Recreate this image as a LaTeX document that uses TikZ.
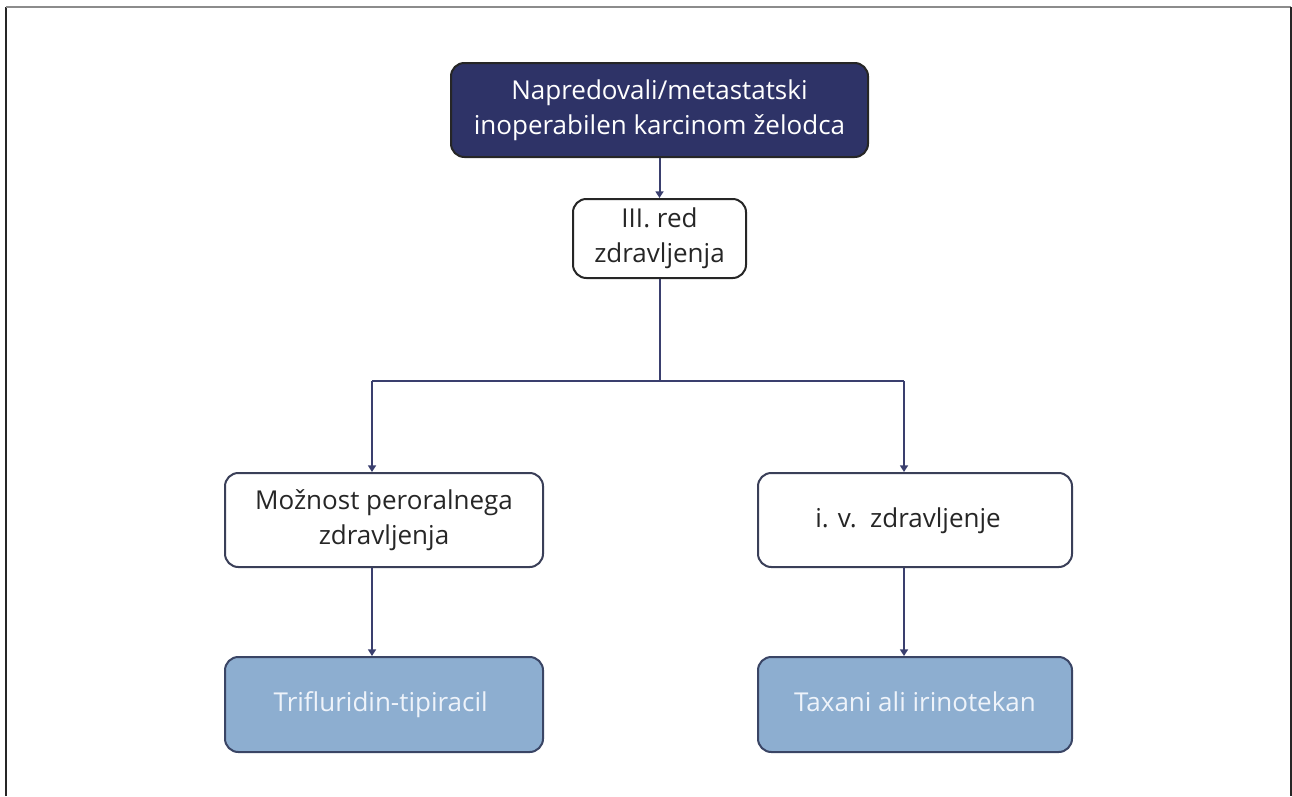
\documentclass[tikz,border=0pt]{standalone}
\usepackage{fontspec}
\setmainfont{Open Sans}
\usetikzlibrary{arrows.meta,calc}
\definecolor{navy}{HTML}{2E3367}
\definecolor{conn}{HTML}{3A3F6E}
\definecolor{lblue}{HTML}{8DAED0}
\definecolor{lbtext}{HTML}{EEF3FA}
\definecolor{lbborder}{HTML}{3A4565}
\definecolor{midborder}{HTML}{3A3F58}
\begin{document}
\begin{tikzpicture}[x=0.75pt,y=-0.75pt,
  boxbase/.style={rounded corners=10pt,line width=1.5pt,align=center,font=\fontsize{19.5}{26}\selectfont,inner sep=0pt},
  topbox/.style={boxbase,fill=navy,draw=black!85,text=white,minimum width=312.75pt,minimum height=70.5pt},
  redbox/.style={boxbase,fill=white,draw=black!85,text=black!85,minimum width=129.75pt,minimum height=59.25pt},
  midbox/.style={boxbase,fill=white,draw=midborder,text=black!85,minimum height=70.5pt},
  botbox/.style={boxbase,fill=lblue,draw=lbborder,text=lbtext,minimum height=71.25pt},
  conline/.style={draw=conn,line width=1.5pt},
  conarrow/.style={conline,-{Triangle[length=5pt,width=6pt]}}
]
\useasboundingbox (0,0) rectangle (1292,796);
% outer frame
\draw[black!85,line width=1.5pt] (6,796) -- (6,7);
\draw[black!45,line width=1.5pt] (6,7) -- (1291,7);
\draw[black!85,line width=1.5pt] (1291,7) -- (1291,796);

\node[topbox] (top) at (659.5,110) {Napredovali/metastatski\\inoperabilen karcinom želodca};
\node[redbox] (red) at (659.5,238.5) {III. red\\zdravljenja};
\node[midbox,minimum width=238.5pt] (lm) at (384,520) {Možnost peroralnega\\zdravljenja};
\node[midbox,minimum width=235.5pt] (rm) at (915,520) {\raisebox{-1.5pt}{i. v.\ \ zdravljenje}\hspace{10.5pt}\vphantom{Tjp}};
\node[botbox,minimum width=238.5pt] (lb) at (384,704.5) {Trifluridin-tipiracil\hspace{5pt}\vphantom{Tjp}};
\node[botbox,minimum width=235.5pt] (rb) at (915,704.5) {Taxani ali irinotekan\vphantom{Tjp}};

\coordinate (jc) at (659.5,381);
\coordinate (jl) at (372,381);
\coordinate (jr) at (904,381);

\draw[conarrow] (top.south) -- (red.north);
\draw[conline] (red.south) -- (jc);
\draw[conline] (jl) -- (jr);
\draw[conarrow] (jl) -- (jl |- lm.north);
\draw[conarrow] (jr) -- (jr |- rm.north);
\draw[conarrow] (jl |- lm.south) -- (jl |- lb.north);
\draw[conarrow] (jr |- rm.south) -- (jr |- rb.north);
\end{tikzpicture}
\end{document}
